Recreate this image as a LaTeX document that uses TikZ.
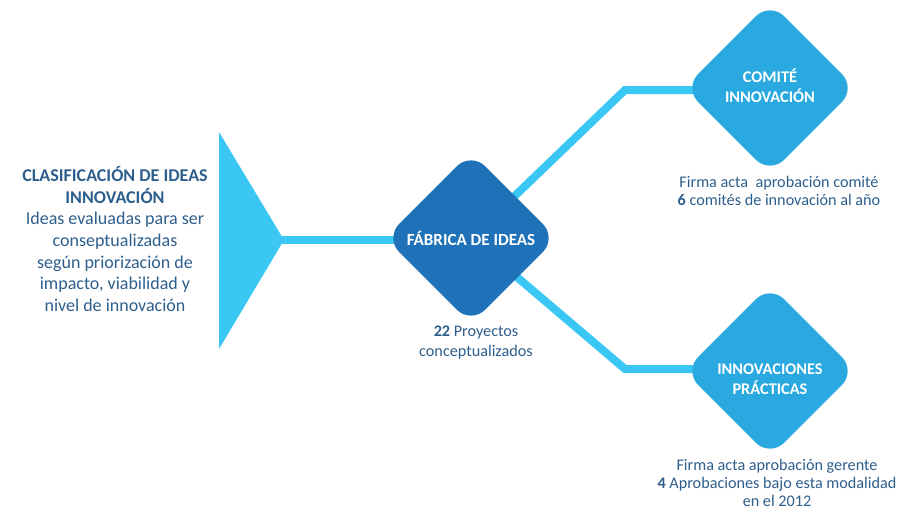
\documentclass[tikz,border=0pt]{standalone}
\usepackage{fontspec}
\setmainfont{Carlito}
\usetikzlibrary{shapes.geometric,backgrounds}
\definecolor{ideaslinea}{RGB}{59,199,244}
\definecolor{ideasoscuro}{RGB}{31,113,184}
\definecolor{ideasclaro}{RGB}{41,169,224}
\definecolor{ideastexto}{RGB}{46,94,140}

\begin{document}
\begin{tikzpicture}[x=1pt,y=-1pt,
  rombo/.style={diamond,aspect=1,minimum width=172pt,minimum height=172pt,inner sep=0pt,
    rounded corners=20pt},
  rombotxt/.style={text=white,align=center,font=\bfseries\fontsize{16.3}{20}\selectfont},
  enlace/.style={draw=ideaslinea,line width=8pt},
  texto/.style={text=ideastexto,align=center,font=\fontsize{16.2}{20}\selectfont}]
\useasboundingbox (0,0) rectangle (904,511);

% rombos
\node [rombo,fill=ideasoscuro] (fab) at (471,238) {};
\node [rombo,fill=ideasclaro] (com) at (770,88) {};
\node [rombo,fill=ideasclaro] (pra) at (770,371) {};
\node [rombotxt,font=\bfseries\fontsize{17}{20}\selectfont] (fabnom) at (fab.center) {FÁBRICA DE IDEAS};
\node [rombotxt] (comnom) at ([yshift=2pt]com.center) {COMITÉ\\INNOVACIÓN};
\node [rombotxt] (pranom) at ([yshift=-8pt]pra.center) {INNOVACIONES\\PRÁCTICAS};

% textos
\node [texto,font=\fontsize{18}{21.7}\selectfont] (clas) at (115,239)
{\textbf{CLASIFICACIÓN DE IDEAS}\\\textbf{INNOVACIÓN}\\Ideas evaluadas para ser\\conseptualizadas\\según priorización de\\impacto, viabilidad y\\nivel de innovación};
\node [texto] (fabtxt) at (476,342) {\textbf{22} Proyectos\\conceptualizados};
\node [texto,font=\fontsize{16.2}{18.5}\selectfont] (comtxt) at (779,191) {Firma acta\ \ aprobación comité\\\textbf{6} comités de innovación al año};
\node [texto,font=\fontsize{16.2}{18}\selectfont] (pratxt) at (777,483) {Firma acta aprobación gerente\\\textbf{4} Aprobaciones bajo esta modalidad\\en el 2012};

% embudo y enlaces
\coordinate (tip) at (280,240);
\coordinate (b1) at (625,90);
\coordinate (b2) at (625,369);
\begin{scope}[on background layer]
\fill [ideaslinea] (219,132) -- (219,349) -- (284,240) -- cycle;
\draw [enlace] (tip) -- (fab.center |- tip);
\draw [enlace] (fab.center) -- (b1) -- (com.center |- b1);
\draw [enlace] (fab.center) -- (b2) -- (pra.center |- b2);
\end{scope}
\end{tikzpicture}
\end{document}
